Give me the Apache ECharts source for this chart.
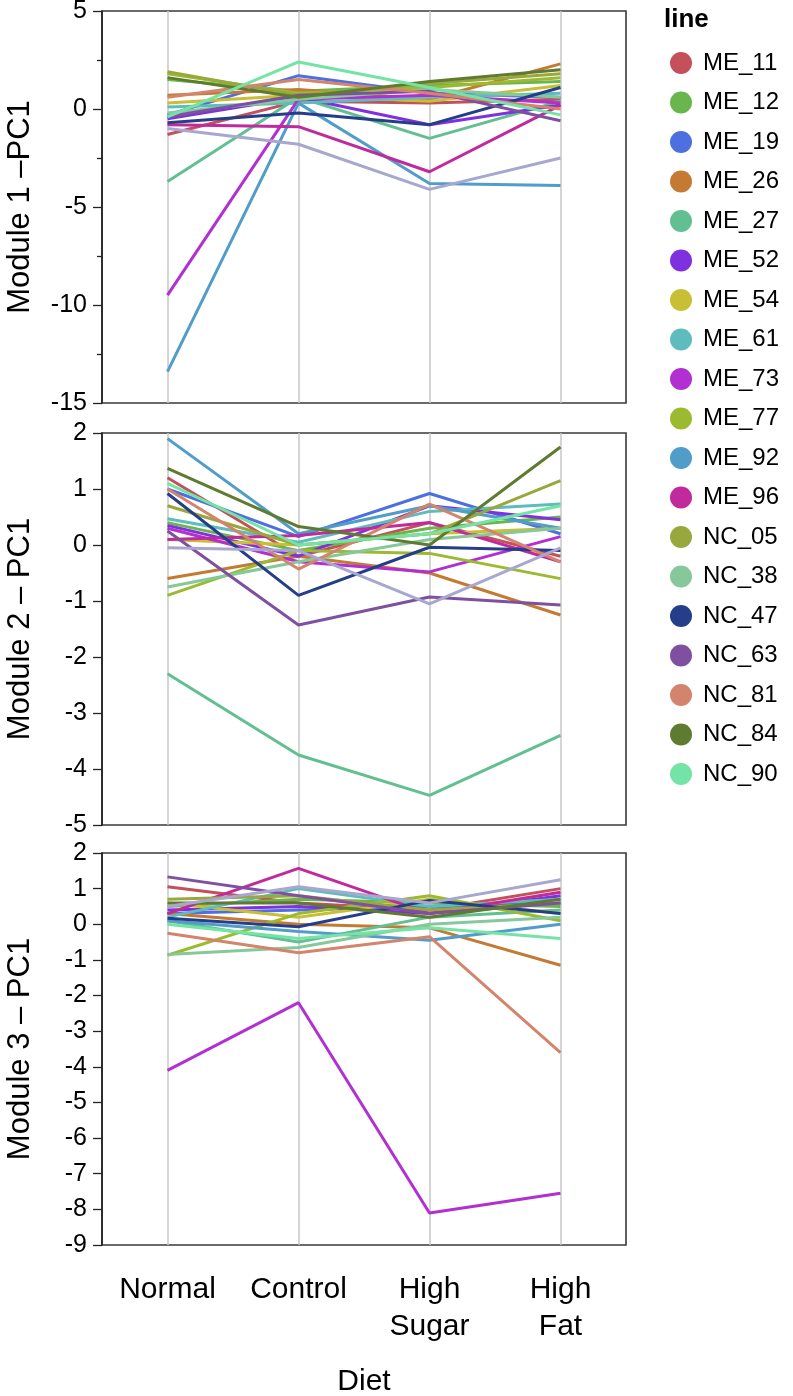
<!DOCTYPE html>
<html><head><meta charset="utf-8">
<script src="https://cdn.jsdelivr.net/npm/echarts@6/dist/echarts.min.js"></script>
<style>html,body{margin:0;padding:0;background:#fff}#c{width:793px;height:1396px}</style>
</head><body><div id="c"></div>
<script>
// ---- data ----
const diets = ['Normal', 'Control', 'High\nSugar', 'High\nFat'];
const lineNames = ['ME_11','ME_12','ME_19','ME_26','ME_27','ME_52','ME_54','ME_61','ME_73','ME_77',
  'ME_92','ME_96','NC_05','NC_38','NC_47','NC_63','NC_81','NC_84','NC_90','unlisted'];
const legendNames = lineNames.slice(0, 19);
const module1Values = [
  [-1.3, 0.4, 0.3, 0.5],
  [1.5, 0.9, 1.2, 1.4],
  [-0.3, 1.7, 0.8, 0.6],
  [0.7, 1.0, 0.5, 2.3],
  [-3.7, 0.6, -1.5, 0.4],
  [-0.5, 0.6, -0.8, 0.2],
  [0.3, 0.7, 0.4, 1.2],
  [0.1, 0.3, 0.6, 0.8],
  [-9.5, 0.5, 0.7, 0.3],
  [1.8, 0.8, 1.1, 1.6],
  [-13.4, 0.3, -3.8, -3.9],
  [-0.8, -0.9, -3.2, 0.2],
  [1.9, 0.7, 1.3, 1.8],
  [-0.2, 0.5, 1.0, 0.6],
  [-0.7, -0.2, -0.8, 1.1],
  [-0.4, 0.7, 0.9, -0.6],
  [0.6, 1.5, 0.8, 0.0],
  [1.6, 0.6, 1.4, 2.0],
  [-0.4, 2.4, 1.1, -0.3],
  [-1.0, -1.8, -4.1, -2.5]
];
const module2Values = [
  [1.2, -0.2, 0.4, -0.2],
  [0.4, -0.1, 0.3, 0.5],
  [1.0, 0.15, 0.92, 0.2],
  [-0.6, -0.2, -0.5, -1.25],
  [-2.3, -3.75, -4.47, -3.4],
  [0.35, -0.2, 0.7, 0.45],
  [0.1, 0.0, 0.2, 0.3],
  [0.47, 0.05, 0.6, 0.73],
  [0.3, -0.3, -0.48, 0.15],
  [-0.9, -0.1, -0.15, -0.6],
  [1.9, 0.2, 0.7, 0.3],
  [0.1, 0.17, 0.4, -0.3],
  [0.7, 0.0, 0.2, 1.15],
  [-0.75, -0.3, 0.1, 0.3],
  [0.92, -0.9, -0.04, -0.1],
  [0.25, -1.43, -0.93, -1.07],
  [1.0, -0.43, 0.73, -0.3],
  [1.37, 0.33, 0.0, 1.75],
  [1.1, 0.0, 0.2, 0.7],
  [-0.05, -0.1, -1.05, -0.05]
];
const module3Values = [
  [1.05, 0.6, 0.4, 1.0],
  [0.5, 0.7, 0.6, 0.5],
  [0.3, 0.4, 0.5, 0.6],
  [0.3, 0.0, -0.1, -1.15],
  [0.1, -0.5, 0.2, 0.4],
  [0.4, 0.5, 0.3, 0.8],
  [0.6, 0.2, 0.7, 0.3],
  [0.2, 1.0, 0.5, 0.7],
  [-4.1, -2.2, -8.1, -7.55],
  [-0.87, 0.3, 0.8, 0.1],
  [0.1, -0.2, -0.45, 0.0],
  [0.3, 1.57, 0.3, 0.9],
  [0.7, 0.8, 0.4, 0.6],
  [-0.85, -0.65, 0.0, 0.2],
  [0.17, -0.07, 0.67, 0.3],
  [1.33, 0.8, 0.3, 0.6],
  [-0.25, -0.8, -0.35, -3.6],
  [0.6, 0.6, 0.2, 0.7],
  [0.0, -0.4, -0.1, -0.4],
  [0.5, 1.05, 0.6, 1.25]
];
const axisTitles = ['Module 1 \u2013PC1', 'Module 2 \u2013 PC1', 'Module 3 \u2013 PC1'];
const axisRanges = [[-15, 5, 5], [-5, 2, 1], [-9, 2, 1]];

// ---- styles ----
const palette = ['#c4505c','#6ab64c','#4e6fe0','#c47a32','#62bf92','#7f30df','#c8bf35','#5fbcbc','#b230d2','#9cba30',
  '#4f9dc8','#c02a9c','#98a83c','#86c89a','#253e8a','#7f50a0','#d4846c','#5e7b30','#74e4a6','#a7a7cf'];
const font = '"Liberation Sans", Arial, sans-serif';
const gridTops = [11, 433, 853];
const gridH = 392;
const allValues = [module1Values, module2Values, module3Values];

const grids = [], xAxes = [], yAxes = [], series = [];
for (let k = 0; k < 3; k++) {
  grids.push({left: 102, width: 524, top: gridTops[k], height: gridH, show: true,
    outerBoundsMode: 'none', containLabel: false,
    borderColor: '#3a3a3a', borderWidth: 1.6, backgroundColor: 'transparent'});
  xAxes.push({type: 'category', gridIndex: k, data: diets, boundaryGap: true, position: 'bottom',
    axisLine: {show: false, onZero: false},
    axisTick: {show: true, inside: true, length: gridH, alignWithLabel: true,
      lineStyle: {color: '#c8c8c8', width: 1.5}},
    axisLabel: {show: k === 2, fontSize: 30, color: '#000', fontFamily: font, lineHeight: 37, margin: 26},
    splitLine: {show: false},
    name: k === 2 ? 'Diet' : '', nameLocation: 'middle', nameGap: 122,
    nameTextStyle: {fontSize: 30, color: '#000', fontFamily: font}
  });
  const r = axisRanges[k];
  yAxes.push({type: 'value', gridIndex: k, min: r[0], max: r[1], interval: r[2],
    axisLine: {show: true, onZero: false, lineStyle: {color: '#222', width: 1.6}},
    axisTick: {show: true, length: 9, lineStyle: {color: '#222', width: 1.3}},
    minorTick: {show: k === 0, splitNumber: 2, length: 5, lineStyle: {color: '#222', width: 1.3}},
    splitLine: {show: false},
    axisLabel: {fontSize: 25, color: '#000', fontFamily: font, margin: 15},
    name: axisTitles[k], nameLocation: 'middle', nameGap: 66,
    nameTextStyle: {fontSize: 31, color: '#000', fontFamily: font}
  });
  allValues[k].forEach((vals, i) => {
    series.push({type: 'line', name: lineNames[i], xAxisIndex: k, yAxisIndex: k,
      data: vals, symbol: 'none', lineStyle: {width: 3, color: palette[i]},
      itemStyle: {color: palette[i]}, emphasis: {disabled: true}});
  });
}

const chart = echarts.init(document.getElementById('c'), null, {renderer: 'canvas'});
chart.setOption({
  animation: false,
  backgroundColor: '#fff',
  title: {text: 'line', left: 659, top: 2, textStyle: {fontSize: 26, fontWeight: 'bold', color: '#000', fontFamily: font}},
  legend: {data: legendNames, orient: 'vertical', left: 665, top: 46, icon: 'circle',
    itemWidth: 22, itemHeight: 22, itemGap: 15.5,
    textStyle: {fontSize: 24, color: '#000', fontFamily: font, padding: [0, 0, 0, 6]}},
  grid: grids, xAxis: xAxes, yAxis: yAxes, series: series
});
</script></body></html>
